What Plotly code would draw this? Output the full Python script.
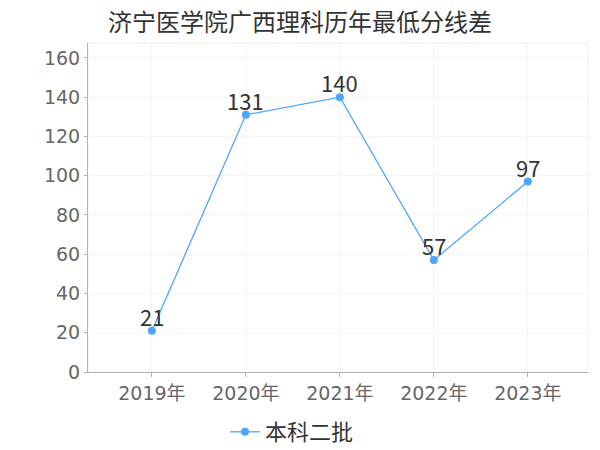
import plotly.graph_objects as go

years = ["2019年", "2020年", "2021年", "2022年", "2023年"]
values = [21, 131, 140, 57, 97]
series_name = "本科二批"
title = "济宁医学院广西理科历年最低分线差"
y_ticks = [0, 20, 40, 60, 80, 100, 120, 140, 160]

TICKFONT = "DejaVu Sans, Noto Sans CJK SC, sans-serif"
CJK = "Noto Sans CJK SC, sans-serif"
BLUE = "#4da6ff"

# page body has an 8px margin, so the figure is drawn 8px smaller and offset
W, H = 592, 442

xs = list(range(len(years)))

fig = go.Figure()
fig.add_trace(go.Scatter(
    x=xs, y=values, mode="lines+markers",
    name=series_name,
    line=dict(color=BLUE, width=1.3),
    marker=dict(color=BLUE, size=8),
    cliponaxis=False,
))

for x, v in zip(xs, values):
    fig.add_annotation(x=x, y=v, text=str(v), showarrow=False,
                       xanchor="center", yanchor="bottom", yshift=-3,
                       font=dict(size=22, color="#333333", family=CJK))

fig.update_layout(
    width=W, height=H,
    margin=dict(l=80, r=12, t=35, b=78),
    paper_bgcolor="white", plot_bgcolor="white",
    title=dict(text=title, x=292 / W, xanchor="center", xref="container",
               y=1 - 15 / H, yanchor="middle",
               font=dict(size=24, color="#333333", family=CJK)),
    font=dict(family=CJK),
    showlegend=True,
    legend=dict(orientation="h", x=284 / W, xanchor="center", xref="container",
                yref="container", y=1 - 424 / H, yanchor="middle",
                itemwidth=30,
                font=dict(size=22, color="#333333", family=CJK)),
    xaxis=dict(
        tickmode="array", tickvals=xs, ticktext=years, automargin=False,
        range=[-0.68, 4.64], showgrid=True, gridcolor="#f5f5f5", gridwidth=1,
        showline=True, linecolor="#b0b0b0", linewidth=1,
        ticks="outside", ticklen=4, tickcolor="#b0b0b0",
        tickfont=dict(size=19, color="#666666", family=TICKFONT), zeroline=False,
    ),
    yaxis=dict(
        range=[0, 167.6], tickvals=y_ticks, showgrid=True, gridcolor="#f5f5f5",
        showline=True, linecolor="#b0b0b0", linewidth=1, automargin=False,
        ticks="outside", ticklen=3, tickcolor="#b0b0b0",
        tickfont=dict(size=19, color="#666666", family=TICKFONT), zeroline=False,
    ),
    shapes=[dict(type="rect", xref="paper", yref="paper", x0=0, x1=1, y0=0, y1=1,
                 line=dict(color="#f0f0f0", width=1), layer="below")],
)

fig.write_html("out.html")
